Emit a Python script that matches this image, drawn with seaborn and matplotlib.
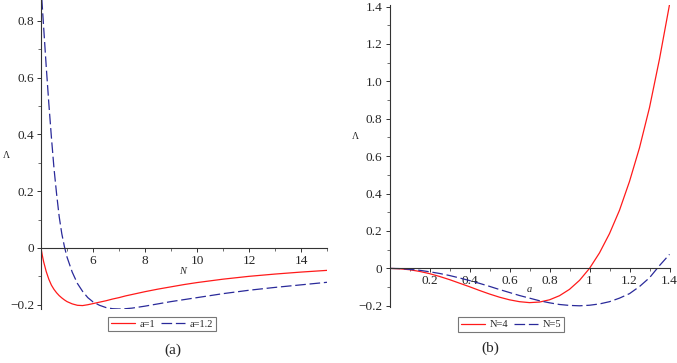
import pandas as pd
import numpy as np
import matplotlib
matplotlib.use('Agg')
import matplotlib.pyplot as plt
import seaborn as sns
from matplotlib.lines import Line2D

# panel (a): Lambda vs N
n_vals = [4.0, 4.05, 4.1, 4.2, 4.3, 4.4, 4.5, 4.6, 4.7, 4.8, 4.9, 5.0, 5.2, 5.4, 5.6, 5.8, 6.0,
          6.25, 6.5, 6.75, 7.0, 7.25, 7.5, 8.0, 8.5, 9.0, 9.5, 10.0, 11.0, 12.0, 13.0, 14.0, 15.0]
lam_a1 = [0.0, -0.026, -0.048, -0.083, -0.110, -0.131, -0.146, -0.158, -0.168, -0.176, -0.183, -0.189,
          -0.197, -0.202, -0.203, -0.200, -0.196, -0.191, -0.186, -0.180, -0.175, -0.169, -0.164,
          -0.154, -0.145, -0.137, -0.129, -0.122, -0.110, -0.100, -0.092, -0.085, -0.079]
lam_a12 = [0.92, 0.85, 0.78, 0.64, 0.51, 0.39, 0.28, 0.19, 0.11, 0.05, 0.005, -0.032,
           -0.085, -0.125, -0.153, -0.175, -0.190, -0.202, -0.210, -0.214, -0.215, -0.214, -0.212,
           -0.205, -0.197, -0.189, -0.182, -0.175, -0.161, -0.149, -0.139, -0.130, -0.121]

# panel (b): Lambda vs a
a_vals = [0.0, 0.05, 0.1, 0.15, 0.2, 0.25, 0.3, 0.35, 0.4, 0.45, 0.5, 0.55, 0.6, 0.65, 0.7,
          0.75, 0.8, 0.85, 0.9, 0.95, 1.0, 1.05, 1.1, 1.15, 1.2, 1.25, 1.3, 1.35, 1.4]
lam_n4 = [0.0, -0.002, -0.007, -0.016, -0.028, -0.043, -0.060, -0.079, -0.098, -0.118, -0.137,
          -0.154, -0.168, -0.178, -0.183, -0.180, -0.168, -0.146, -0.112, -0.064, 0.0, 0.083,
          0.186, 0.311, 0.465, 0.645, 0.86, 1.12, 1.41]
lam_n5 = [0.0, -0.001, -0.005, -0.010, -0.018, -0.027, -0.038, -0.051, -0.065, -0.080, -0.096,
          -0.113, -0.129, -0.145, -0.159, -0.173, -0.184, -0.193, -0.198, -0.200, -0.197, -0.190,
          -0.178, -0.159, -0.135, -0.097, -0.050, 0.015, 0.075]

df_a = pd.DataFrame({'N': n_vals * 2, 'L': lam_a1 + lam_a12,
                     'series': ['a=1'] * len(n_vals) + ['a=1.2'] * len(n_vals)})
df_b = pd.DataFrame({'a': a_vals * 2, 'L': lam_n4 + lam_n5,
                     'series': ['N=4'] * len(a_vals) + ['N=5'] * len(a_vals)})

sns.set_style('white')
plt.rcParams['font.family'] = ['Liberation Serif', 'DejaVu Serif']

red = '#ff1a1a'
blue = '#2a2a9a'
dash = (8.5, 3)
pal_a = {'a=1': red, 'a=1.2': blue}
pal_b = {'N=4': red, 'N=5': blue}

fig = plt.figure(figsize=(6.77, 3.63), dpi=100)
ax1 = fig.add_axes([41 / 677, 0.1488, 286 / 677, 0.851])
ax2 = fig.add_axes([389.5 / 677, 0.155, 280 / 677, 0.832])


def style_axis(ax):
    ax.spines['top'].set_visible(False)
    ax.spines['right'].set_visible(False)
    ax.spines['bottom'].set_position(('data', 0))
    for s in ['left', 'bottom']:
        ax.spines[s].set_color('#333333')
        ax.spines[s].set_linewidth(0.8)
    ax.tick_params(which='major', direction='out', length=3, width=0.7, color='#333333',
                   labelsize=9.5, pad=2, left=True, bottom=True)
    ax.tick_params(which='minor', direction='out', length=2, width=0.6, color='#555555',
                   left=True, bottom=True)
    ax.set_xlabel('')
    ax.set_ylabel('')
    ax.grid(False)


def draw(ax, df, xcol, pal, order):
    sns.lineplot(data=df, x=xcol, y='L', hue='series', style='series', hue_order=order,
                 style_order=order, palette=pal, dashes={order[0]: '', order[1]: dash},
                 linewidth=0.9, ax=ax, sort=False, legend=False)


draw(ax1, df_a, 'N', pal_a, ['a=1', 'a=1.2'])
draw(ax2, df_b, 'a', pal_b, ['N=4', 'N=5'])

ax1.set_xlim(4, 15)
ax1.set_ylim(-0.215, 0.873)
ax1.set_xticks([6, 8, 10, 12, 14], labels=['6', '8', '10', '12', '14'])
ax1.set_xticks([5, 7, 9, 11, 13, 15], minor=True)
ax1.set_yticks([-0.2, 0, 0.2, 0.4, 0.6, 0.8], labels=['\u22120.2', '0', '0.2', '0.4', '0.6', '0.8'])
ax1.set_yticks([-0.1, 0.1, 0.3, 0.5, 0.7], minor=True)
style_axis(ax1)

ax2.set_xlim(0, 1.4)
ax2.set_ylim(-0.205, 1.41)
ax2.set_xticks([0.2, 0.4, 0.6, 0.8, 1.0, 1.2, 1.4],
               labels=['0.2', '0.4', '0.6', '0.8', '1', '1.2', '1.4'])
ax2.set_xticks([0.1, 0.3, 0.5, 0.7, 0.9, 1.1, 1.3], minor=True)
ax2.set_yticks([-0.2, 0, 0.2, 0.4, 0.6, 0.8, 1.0, 1.2, 1.4],
               labels=['\u22120.2', '0', '0.2', '0.4', '0.6', '0.8', '1.0', '1.2', '1.4'])
ax2.set_yticks([-0.1, 0.1, 0.3, 0.5, 0.7, 0.9, 1.1, 1.3], minor=True)
style_axis(ax2)

# axis names, Maple style
ax1.text(9.45, -0.083, 'N', style='italic', fontsize=7.5, ha='center', va='center')
ax2.text(0.70, -0.112, 'a', style='italic', fontsize=7.5, ha='center', va='center')
fig.text(3 / 677, 1 - 155 / 363, '\u039b', fontsize=7, ha='left', va='center')
fig.text(352 / 677, 1 - 137 / 363, '\u039b', fontsize=7, ha='left', va='center')

# legends
for ax, labels, cx, cy in [(ax1, ['a=1', 'a=1.2'], 162, 324), (ax2, ['N=4', 'N=5'], 511, 324.5)]:
    handles = [Line2D([], [], color=red, lw=0.9),
               Line2D([], [], color=blue, lw=0.9, dashes=dash)]
    leg = ax.legend(handles, labels, ncol=2, loc='center', bbox_to_anchor=(cx / 677, 1 - cy / 363),
                    bbox_transform=fig.transFigure, fontsize=7.5, frameon=True, fancybox=False,
                    handlelength=2.3, handletextpad=0.5, columnspacing=0.5, borderpad=0.25,
                    borderaxespad=0)
    leg.get_frame().set_edgecolor('#555555')
    leg.get_frame().set_linewidth(0.8)

fig.text(173 / 677, 1 - 350 / 363, '(a)', fontsize=11, ha='center', va='center')
fig.text(490 / 677, 1 - 348 / 363, '(b)', fontsize=11, ha='center', va='center')

fig.savefig('out.png', dpi=100)
